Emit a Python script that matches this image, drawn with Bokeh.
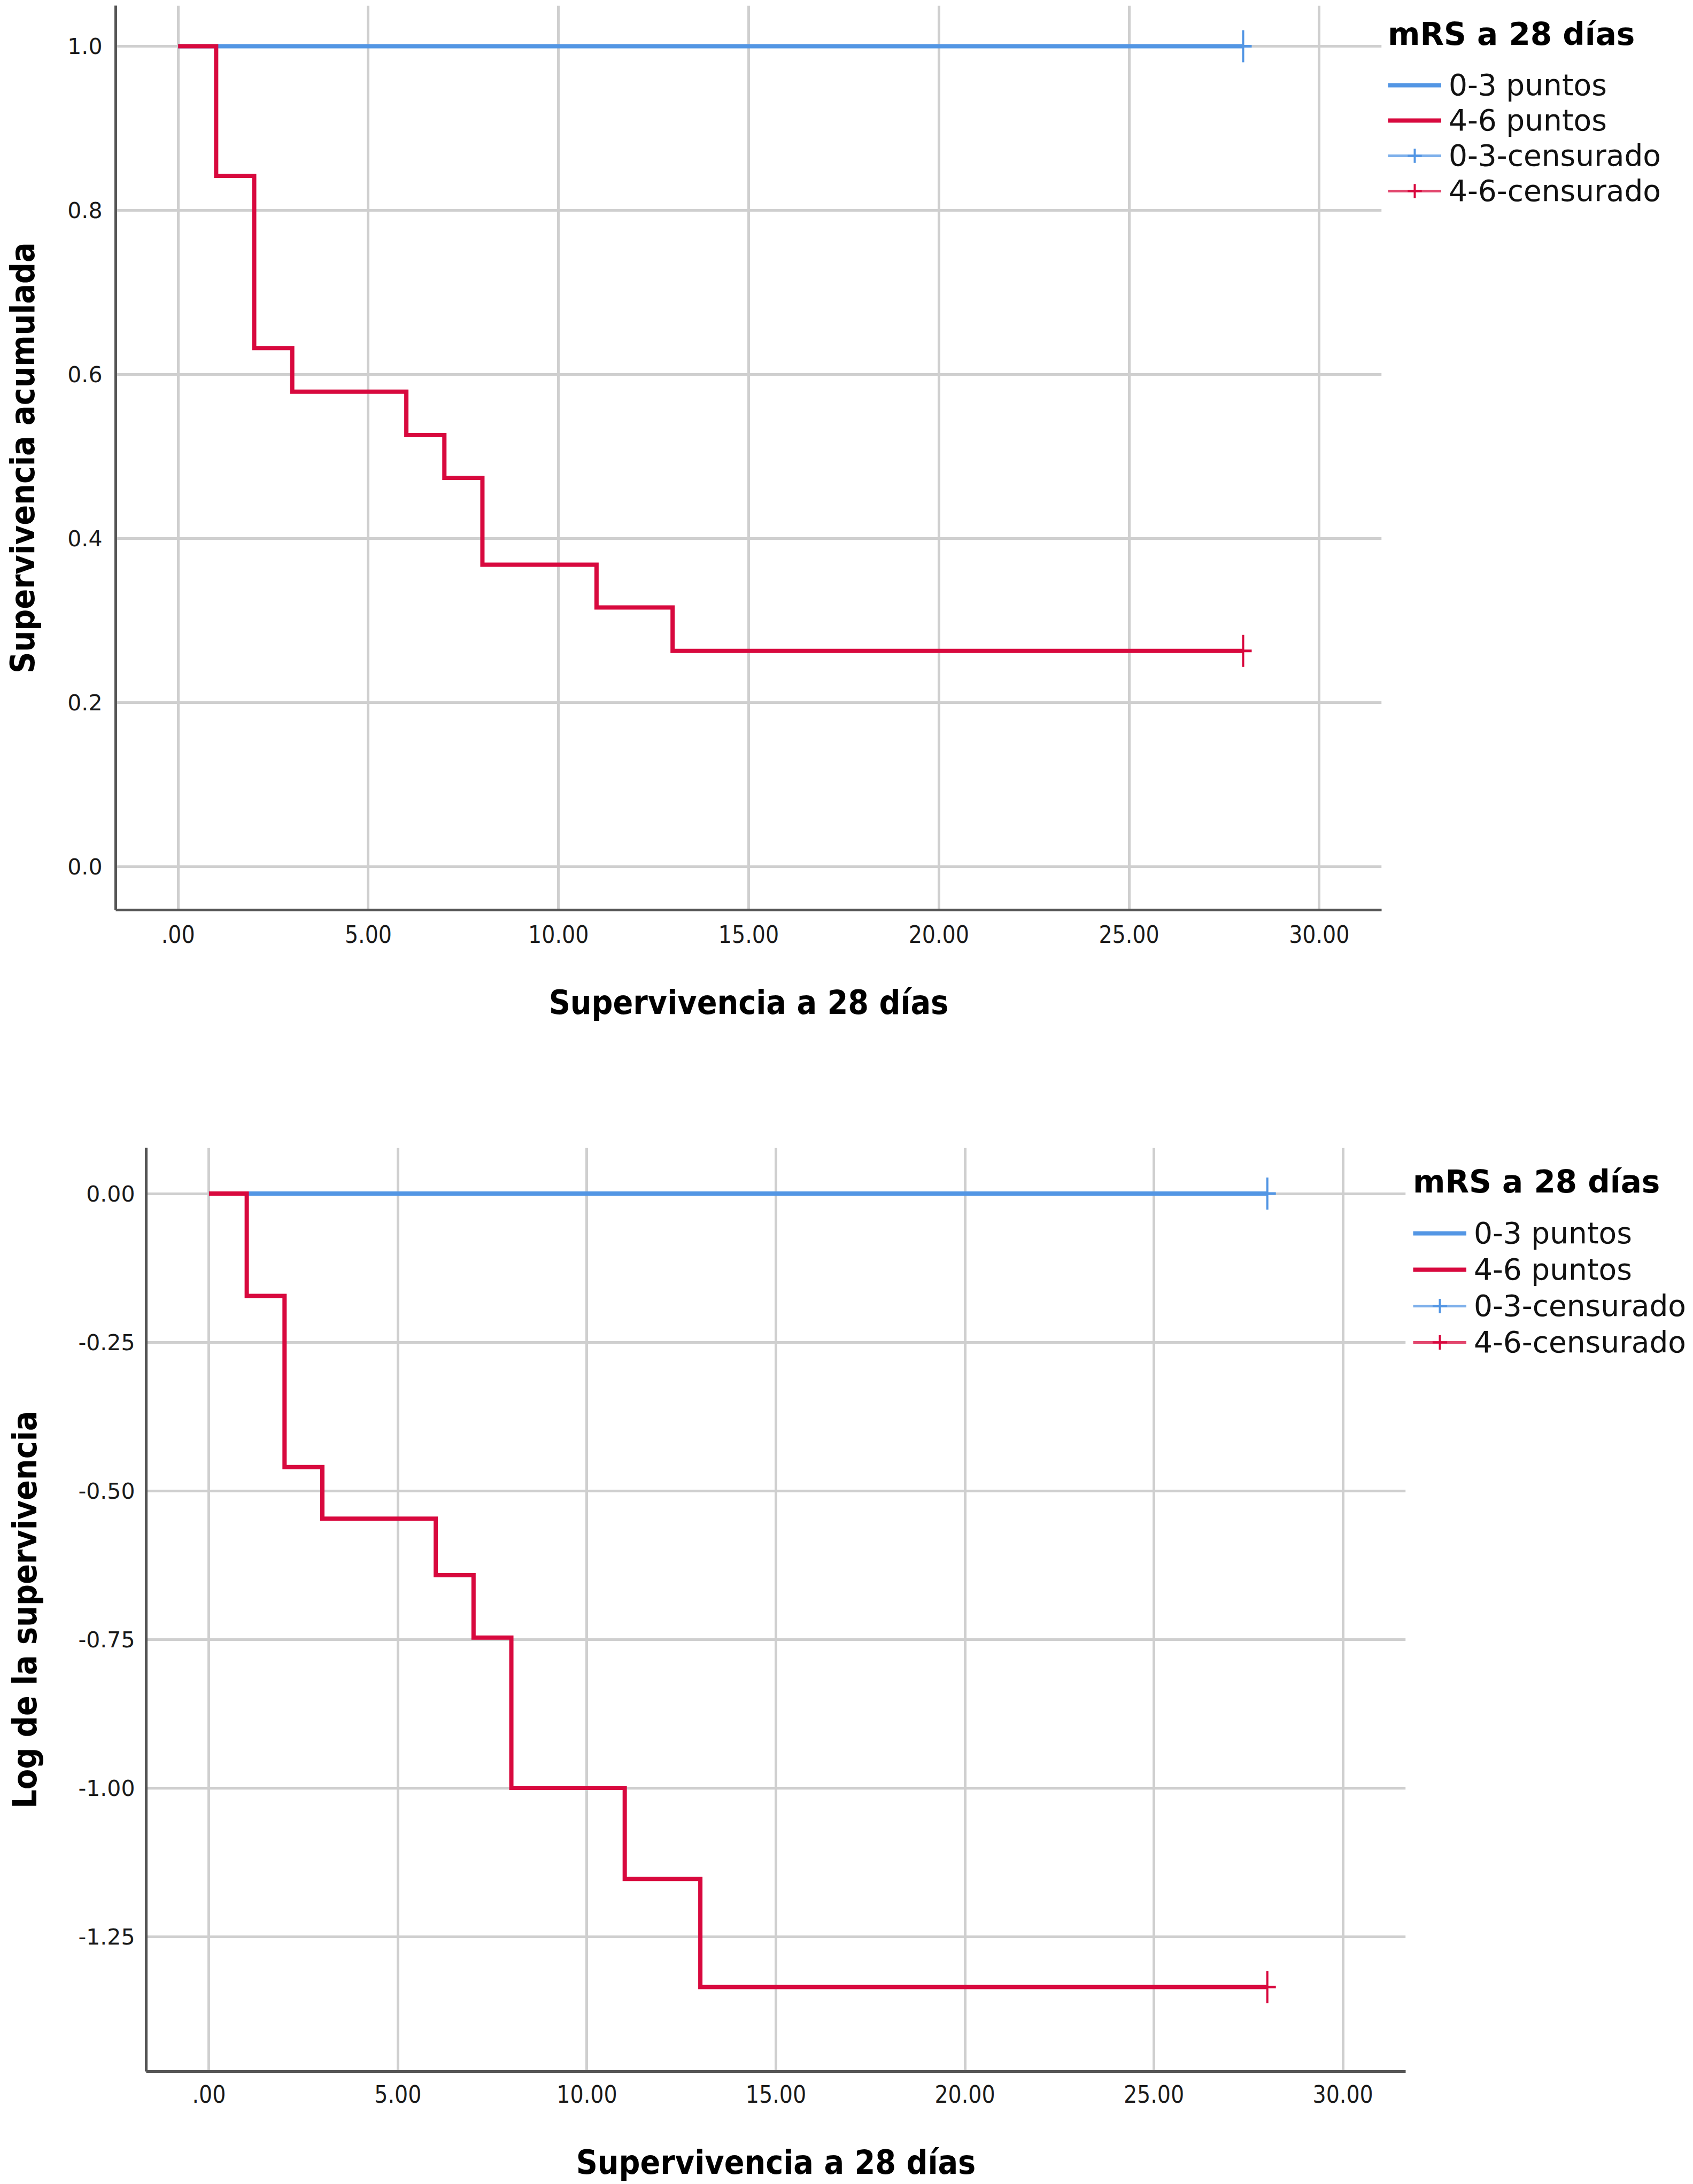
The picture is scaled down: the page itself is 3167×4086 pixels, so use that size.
import math
from bokeh.plotting import figure
from bokeh.models import Legend, LegendItem, FixedTicker, Range1d
from bokeh.embed import file_html
from bokeh.resources import INLINE

# ---------------- data ----------------
times_03 = [0, 28]
surv_03 = [1.0, 1.0]
logsurv_03 = [0.0, 0.0]

times_46 = [0, 1, 2, 3, 6, 7, 8, 11, 13, 28]
surv_46 = [1.0, 0.842, 0.632, 0.579, 0.526, 0.474, 0.368, 0.316, 0.263, 0.263]
logsurv_46 = [0.0, -0.172, -0.460, -0.547, -0.642, -0.747, -1.000, -1.153, -1.335, -1.335]

cens_time_03 = [28]
cens_surv_03 = [1.0]
cens_logsurv_03 = [0.0]
cens_time_46 = [28]
cens_surv_46 = [0.263]
cens_logsurv_46 = [-1.335]

x_ticks = [0, 5, 10, 15, 20, 25, 30]
x_tick_labels = [".00", "5.00", "10.00", "15.00", "20.00", "25.00", "30.00"]
y1_ticks = [0.0, 0.2, 0.4, 0.6, 0.8, 1.0]
y1_tick_labels = ["0.0", "0.2", "0.4", "0.6", "0.8", "1.0"]
y2_ticks = [0.0, -0.25, -0.5, -0.75, -1.0, -1.25]
y2_tick_labels = ["0.00", "-0.25", "-0.50", "-0.75", "-1.00", "-1.25"]

group_labels = ["0-3 puntos", "4-6 puntos", "0-3-censurado", "4-6-censurado"]
legend_title = "mRS a 28 días"
x_title = "Supervivencia a 28 días"
y1_title = "Supervivencia acumulada"
y2_title = "Log de la supervivencia"

# ---------------- styles ----------------
BLUE = "#5396e4"
RED = "#d8093e"
GRID = "#cfcfcf"
AXIS = "#555555"
COND = "'DejaVu Sans Condensed', 'Liberation Sans Narrow', 'DejaVu Sans', sans-serif"
REG = "'DejaVu Sans', sans-serif"


def make_fig(frame_w, frame_h, left, right, top, bottom, xr, yr,
             yticks, ylabels, ytitle, tick_standoff_x, title_standoff_x,
             tick_standoff_y, title_standoff_y):
    p = figure(frame_width=frame_w, frame_height=frame_h,
               min_border_left=left, min_border_right=right,
               min_border_top=top, min_border_bottom=bottom,
               x_range=Range1d(*xr), y_range=Range1d(*yr),
               output_backend="svg", toolbar_location=None)
    p.outline_line_color = None
    p.background_fill_color = "white"
    p.border_fill_color = "white"

    p.xaxis.ticker = FixedTicker(ticks=x_ticks)
    p.xaxis.major_label_overrides = dict(zip(x_ticks, x_tick_labels))
    p.yaxis.ticker = FixedTicker(ticks=yticks)
    p.yaxis.major_label_overrides = dict(zip(yticks, ylabels))
    for ax in (p.xaxis, p.yaxis):
        ax.axis_line_color = AXIS
        ax.axis_line_width = 5
        ax.major_tick_line_color = None
        ax.minor_tick_line_color = None
        ax.major_tick_out = 0
        ax.major_tick_in = 0
        ax.major_label_text_color = "#1a1a1a"
        ax.axis_label_text_color = "#000000"
        ax.axis_label_text_font_style = "bold"
        ax.axis_label_text_font = COND
        ax.axis_label_text_font_size = "62px"
    p.xaxis.major_label_text_font = COND
    p.xaxis.major_label_text_font_size = "44px"
    p.yaxis.major_label_text_font = REG
    p.yaxis.major_label_text_font_size = "41px"
    p.xaxis.major_label_standoff = tick_standoff_x
    p.xaxis.axis_label_standoff = title_standoff_x
    p.yaxis.major_label_standoff = tick_standoff_y
    p.yaxis.axis_label_standoff = title_standoff_y
    p.xaxis.axis_label = x_title
    p.yaxis.axis_label = ytitle

    p.xgrid.ticker = FixedTicker(ticks=x_ticks)
    p.ygrid.ticker = FixedTicker(ticks=yticks)
    for g in (p.xgrid, p.ygrid):
        g.grid_line_color = GRID
        g.grid_line_width = 5
    return p


def add_curves(p, y03, y46, cy03, cy46, loc, row_h):
    r03 = p.step(times_03, y03, mode="after", line_color=BLUE, line_width=8,
                 line_join="miter")
    r46 = p.step(times_46, y46, mode="after", line_color=RED, line_width=8,
                 line_join="miter")
    # censor crosses on the plot (vertical + horizontal strokes)
    for cx, cy, col in ((cens_time_03, cy03, BLUE), (cens_time_46, cy46, RED)):
        p.scatter(cx, cy, marker="dash", angle=math.pi / 2, size=60,
                  line_color=col, line_width=4)
        p.scatter(cx, cy, marker="dash", size=32, line_color=col, line_width=5)
    # renderers used only for the legend icons of the censored items
    l03 = p.line(cens_time_03 * 2, cy03 * 2, line_color=BLUE, line_width=5,
                 line_alpha=0.75)
    l46 = p.line(cens_time_46 * 2, cy46 * 2, line_color=RED, line_width=5,
                 line_alpha=0.75)
    c03 = p.scatter(cens_time_03, cy03, marker="cross", line_color=BLUE,
                    line_width=4, visible=False)
    c46 = p.scatter(cens_time_46, cy46, marker="cross", line_color=RED,
                    line_width=4, visible=False)
    items = [
        LegendItem(label=group_labels[0], renderers=[r03]),
        LegendItem(label=group_labels[1], renderers=[r46]),
        LegendItem(label=group_labels[2], renderers=[l03, c03]),
        LegendItem(label=group_labels[3], renderers=[l46, c46]),
    ]
    leg = Legend(items=items, location=loc, title=legend_title,
                 title_text_font=REG, title_text_font_style="bold",
                 title_text_font_size="58px", title_text_color="#000000",
                 title_standoff=28,
                 label_text_font=REG, label_text_font_size="55px",
                 label_text_color="#111111",
                 glyph_width=100, glyph_height=row_h, label_height=row_h,
                 label_standoff=14, spacing=0, padding=0, margin=0,
                 border_line_color=None, background_fill_alpha=0,
                 click_policy="none")
    p.add_layout(leg, "right")


p1 = make_fig(2368, 1692, 216, 540, 10, 245, (-1.64, 31.64), (-0.0528, 1.0495),
              y1_ticks, y1_tick_labels, y1_title, 28, 72, 25, 44)
add_curves(p1, surv_03, surv_46, cens_surv_03, cens_surv_46, (12, 1312), 66)

p2 = make_fig(2356, 1728, 273, 520, 200, 200, (-1.66, 31.66), (-1.477, 0.077),
              y2_ticks, y2_tick_labels, y2_title, 25, 72, 21, 60)
add_curves(p2, logsurv_03, logsurv_46, cens_logsurv_03, cens_logsurv_46,
           (14, 1330), 68)

open("out.html", "w").write(file_html([p1, p2], INLINE))
